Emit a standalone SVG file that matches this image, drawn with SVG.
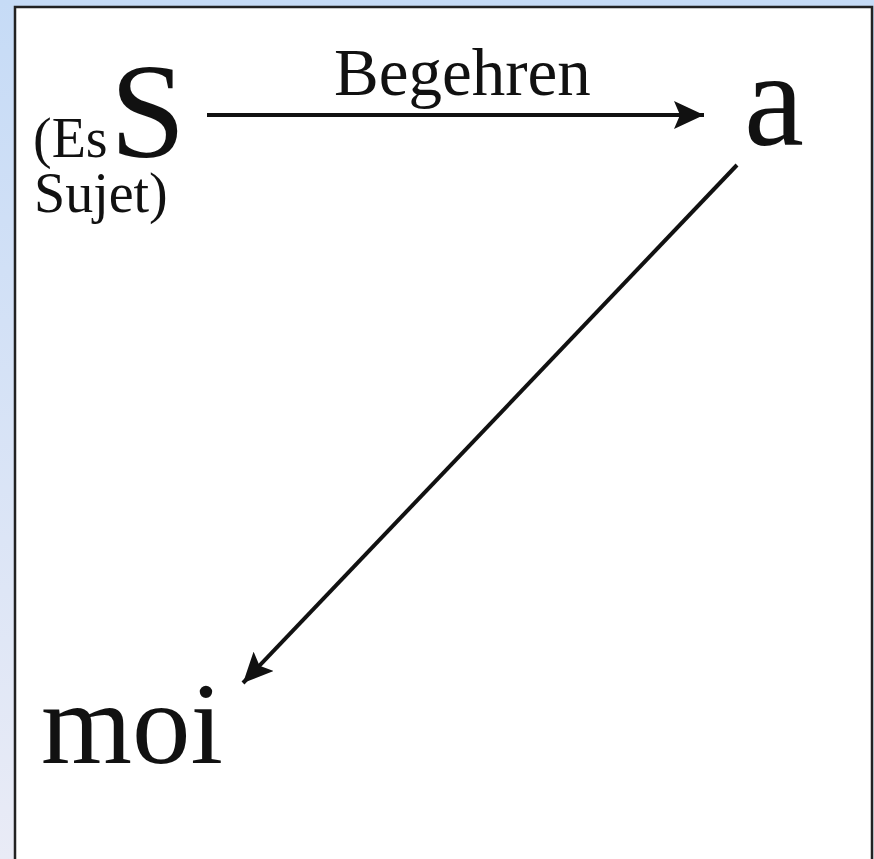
<svg xmlns="http://www.w3.org/2000/svg" width="874" height="859" viewBox="0 0 874 859">
<defs>
<linearGradient id="bg" x1="0" y1="0" x2="0" y2="1">
<stop offset="0" stop-color="#c6dbf6"/>
<stop offset="1" stop-color="#e9ebf6"/>
</linearGradient>
<marker id="ah" viewBox="0 0 30 28" refX="30" refY="14" markerWidth="30" markerHeight="28" markerUnits="userSpaceOnUse" orient="auto">
<path d="M0,0 L30,14 L0,28 L6,14 Z" fill="#111"/>
</marker>
<style>
.t{font-family:"Liberation Serif","Times New Roman",serif;fill:#111}
.c{stroke:#111;stroke-width:4;fill:none}
</style>
</defs>
<rect x="0" y="0" width="874" height="859" fill="url(#bg)"/>
<rect x="15" y="7" width="857" height="860" fill="#fff" stroke="#222" stroke-width="2.5"/>
<g id="connectors">
<line class="c" x1="207" y1="115" x2="704" y2="115" marker-end="url(#ah)"/>
<line class="c" x1="737" y1="165" x2="243" y2="683" marker-end="url(#ah)"/>
</g>
<g id="node-S">
<text class="t" x="110" y="157" font-size="136">S</text>
<text class="t" x="33" y="157" font-size="56">(Es</text>
<text class="t" x="34" y="212" font-size="56">Sujet)</text>
</g>
<g id="label-begehren">
<text class="t" x="334" y="95" font-size="67">Begehren</text>
</g>
<g id="node-a">
<text class="t" x="744" y="145" font-size="135">a</text>
</g>
<g id="node-moi">
<text class="t" x="41" y="763" font-size="117">moi</text>
</g>
</svg>
